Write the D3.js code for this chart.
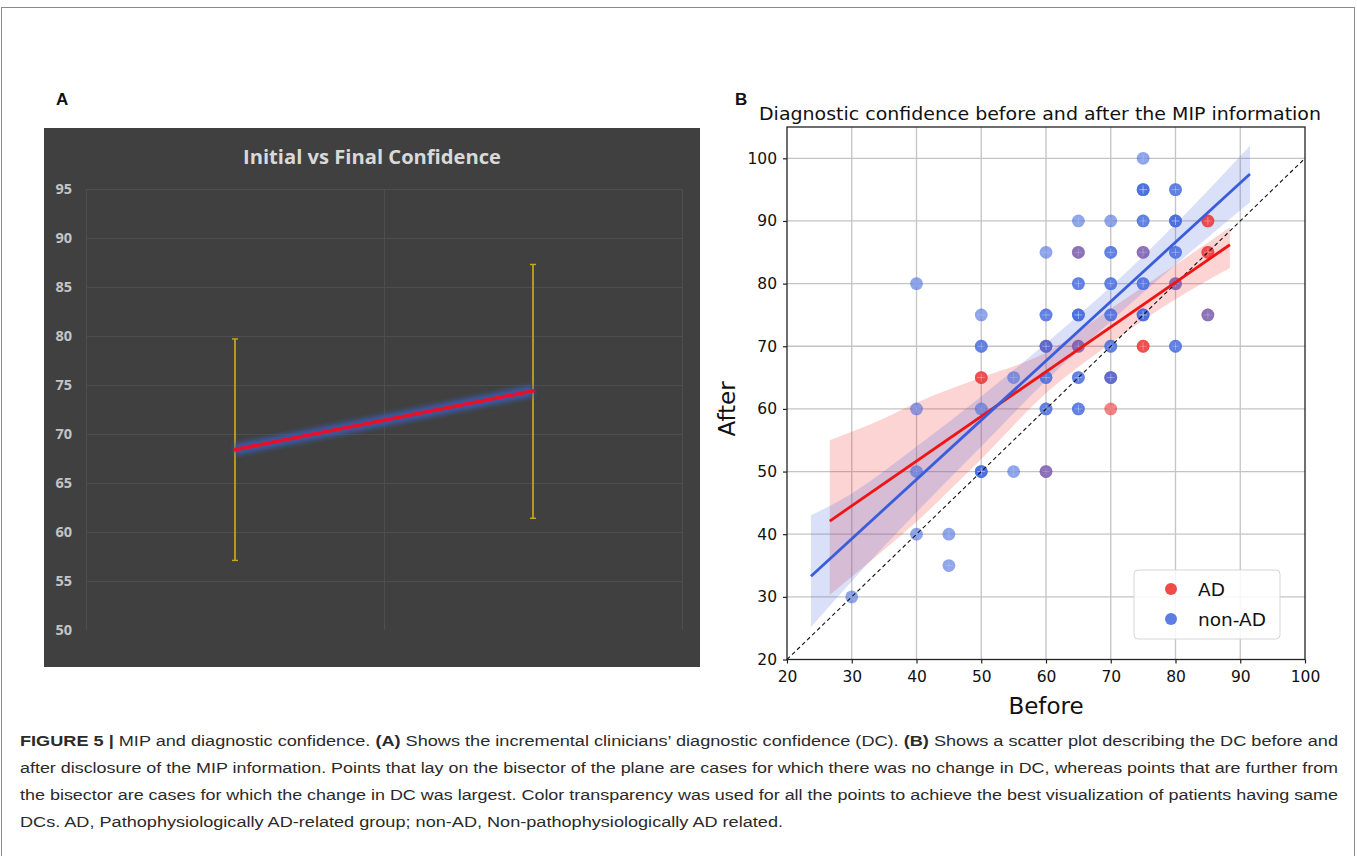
<!DOCTYPE html>
<html>
<head>
<meta charset="utf-8">
<script src="https://cdn.jsdelivr.net/npm/d3@7"></script>
<style>
  body { margin: 0; background: #fff; }
  svg { display: block; }
</style>
</head>
<body>
<svg id="fig" width="1357" height="856"></svg>
<script>
// ---- panel A data (Excel style chart) ----
var stages = ["Initial", "Final"];
var stageMean = [68.4, 74.4];
var stageLow = [57.1, 61.4];
var stageHigh = [79.7, 87.3];
var aTicks = [50, 55, 60, 65, 70, 75, 80, 85, 90, 95];

// ---- panel B data (scatter, before vs after) ----
var adBefore = [50, 50, 60, 60, 65, 65, 70, 70, 75, 75, 75, 80, 85, 85, 85, 85, 85];
var adAfter  = [65, 65, 70, 50, 85, 70, 65, 60, 85, 70, 70, 80, 90, 90, 85, 85, 75];
var nonAdBefore = [30, 40, 40, 40, 40, 45, 45, 50, 50, 50, 50, 50, 50, 50, 55, 55,
                   60, 60, 60, 60, 60, 60, 60, 60, 60, 60,
                   65, 65, 65, 65, 65, 65, 65, 65, 65, 65, 65, 65,
                   70, 70, 70, 70, 70, 70, 70, 70, 70, 70, 70,
                   75, 75, 75, 75, 75, 75, 75, 75, 75, 75, 75, 75,
                   80, 80, 80, 80, 80, 80, 80, 80, 80, 80, 85];
var nonAdAfter  = [30, 80, 60, 50, 40, 40, 35, 75, 70, 70, 60, 50, 50, 50, 65, 50,
                   85, 75, 75, 70, 65, 65, 60, 60, 50, 70,
                   90, 85, 80, 80, 75, 75, 75, 70, 65, 65, 60, 60,
                   90, 85, 85, 80, 80, 75, 75, 70, 70, 65, 65,
                   100, 95, 95, 95, 90, 90, 85, 80, 80, 75, 75, 75,
                   95, 95, 90, 90, 90, 85, 85, 80, 70, 70, 75];

// regression lines [before, after] end points
var adFit = [[26.6, 42.1], [88.4, 86.2]];
var nonAdFit = [[23.7, 33.3], [91.5, 97.5]];
// confidence bands: [before, low, high]
var adBand = [[26.6, 30.3, 55.0], [35, 37.5, 58.5], [40, 42, 61], [50, 52, 65],
              [60, 62.5, 69], [70, 70.5, 76], [80, 77.5, 83], [88.4, 82.5, 89]];
var nonAdBand = [[23.7, 25.2, 43.0], [30, 32.5, 46.5], [40, 43.5, 54], [50, 54, 62],
                 [60, 64.5, 70.5], [70, 74, 79.5], [80, 83, 89.5], [91.5, 93, 102]];
var bTicks = [20, 30, 40, 50, 60, 70, 80, 90, 100];
var groups = ["AD", "non-AD"];

var svg = d3.select("#fig");

// outer frame
svg.append("rect")
    .attr("x", 1.5).attr("y", 7.5)
    .attr("width", 1353).attr("height", 900)
    .attr("fill", "none").attr("stroke", "#8a8a8a").attr("stroke-width", 1);

// panel letters
svg.append("text").attr("x", 56).attr("y", 105).text("A")
    .attr("font-family", "Liberation Sans, Arial").attr("font-weight", "bold")
    .attr("font-size", 17).attr("fill", "#111");
svg.append("text").attr("x", 735).attr("y", 105).text("B")
    .attr("font-family", "Liberation Sans, Arial").attr("font-weight", "bold")
    .attr("font-size", 17).attr("fill", "#111");

// ================= panel A =================
var gA = svg.append("g");
gA.append("rect")
    .attr("x", 44).attr("y", 128).attr("width", 656).attr("height", 539)
    .attr("fill", "#404040");

var xA = d3.scaleBand().domain(stages).range([86, 682]);
var yA = d3.scaleLinear().domain([50, 95]).range([630, 189]);

gA.append("text")
    .attr("x", 372).attr("y", 164)
    .attr("text-anchor", "middle")
    .attr("font-family", "Open Sans, Lato, sans-serif")
    .attr("font-weight", "bold")
    .attr("font-size", 19.5)
    .attr("fill", "#d9d9d9")
    .attr("textLength", 258)
    .attr("lengthAdjust", "spacingAndGlyphs")
    .text("Initial vs Final Confidence");

// horizontal gridlines
gA.append("g").selectAll("line")
    .data(aTicks.filter(function(d) { return d > 50; }))
    .enter().append("line")
    .attr("x1", 86).attr("x2", 682)
    .attr("y1", function(d) { return yA(d) + 0.5; })
    .attr("y2", function(d) { return yA(d) + 0.5; })
    .attr("stroke", "#4e4e4e").attr("stroke-width", 1);

// vertical gridlines at category borders
var borders = [xA(stages[0]), xA(stages[1]), xA(stages[1]) + xA.bandwidth()];
gA.append("g").selectAll("line")
    .data(borders)
    .enter().append("line")
    .attr("x1", function(d) { return d + 0.5; })
    .attr("x2", function(d) { return d + 0.5; })
    .attr("y1", yA(95)).attr("y2", yA(50))
    .attr("stroke", "#4e4e4e").attr("stroke-width", 1);

var axisA = d3.axisLeft(yA).tickValues(aTicks).tickSize(0).tickPadding(0);
var gAxA = gA.append("g").attr("transform", "translate(72,0)").call(axisA);
gAxA.select(".domain").remove();
gAxA.selectAll("text")
    .attr("font-family", "Open Sans, Lato, sans-serif")
    .attr("font-weight", "bold")
    .attr("font-size", 14.5)
    .attr("fill", "#c4c4c4");

// error bars
var ebar = gA.append("g").selectAll("g")
    .data(stages)
    .enter().append("g");
ebar.append("line")
    .attr("x1", function(d) { return xA(d) + xA.bandwidth() / 2; })
    .attr("x2", function(d) { return xA(d) + xA.bandwidth() / 2; })
    .attr("y1", function(d, i) { return yA(stageLow[i]); })
    .attr("y2", function(d, i) { return yA(stageHigh[i]); })
    .attr("stroke", "#c9a81c").attr("stroke-width", 1.7);
[stageLow, stageHigh].forEach(function(arr) {
    ebar.append("line")
        .attr("x1", function(d) { return xA(d) + xA.bandwidth() / 2 - 3; })
        .attr("x2", function(d) { return xA(d) + xA.bandwidth() / 2 + 3; })
        .attr("y1", function(d, i) { return yA(arr[i]); })
        .attr("y2", function(d, i) { return yA(arr[i]); })
        .attr("stroke", "#c9a81c").attr("stroke-width", 1.4);
});

// mean line with a soft blue glow under it
var defs = svg.append("defs");
defs.append("filter").attr("id", "glow")
    .attr("x", "-10%").attr("y", "-80%").attr("width", "120%").attr("height", "260%")
    .append("feGaussianBlur").attr("stdDeviation", 2.5);

var meanLine = d3.line()
    .x(function(d, i) { return xA(stages[i]) + xA.bandwidth() / 2; })
    .y(function(d) { return yA(d); });
gA.append("path")
    .datum(stageMean)
    .attr("d", meanLine)
    .attr("fill", "none")
    .attr("stroke", "#3b5aa8")
    .attr("stroke-width", 11)
    .attr("filter", "url(#glow)");
gA.append("path")
    .datum(stageMean)
    .attr("d", meanLine)
    .attr("fill", "none")
    .attr("stroke", "#e5112b")
    .attr("stroke-width", 3.8)
    .attr("stroke-linecap", "round");

// ================= panel B =================
var gB = svg.append("g");
var xB = d3.scaleLinear().domain([20, 100]).range([787, 1305]);
var yB = d3.scaleLinear().domain([20, 105]).range([659.5, 127]);

gB.append("text")
    .attr("x", 1040).attr("y", 120)
    .attr("text-anchor", "middle")
    .attr("font-family", "DejaVu Sans, sans-serif")
    .attr("font-size", 18)
    .attr("fill", "#111")
    .attr("textLength", 562)
    .attr("lengthAdjust", "spacingAndGlyphs")
    .text("Diagnostic confidence before and after the MIP information");

var plot = gB.append("g");

// gridlines
plot.append("g").selectAll("line")
    .data(bTicks.slice(1, -1))
    .enter().append("line")
    .attr("x1", function(d) { return xB(d); })
    .attr("x2", function(d) { return xB(d); })
    .attr("y1", yB(20)).attr("y2", yB(105))
    .attr("stroke", "#c4c4c4").attr("stroke-width", 1.3);
plot.append("g").selectAll("line")
    .data(bTicks.slice(1))
    .enter().append("line")
    .attr("x1", xB(20)).attr("x2", xB(100))
    .attr("y1", function(d) { return yB(d); })
    .attr("y2", function(d) { return yB(d); })
    .attr("stroke", "#c4c4c4").attr("stroke-width", 1.3);

var colAD = "#ee2a2a";
var colNon = "#3f66de";

var band = d3.area()
    .x(function(d) { return xB(d[0]); })
    .y0(function(d) { return yB(d[1]); })
    .y1(function(d) { return yB(d[2]); })
    .curve(d3.curveMonotoneX);

plot.append("path").datum(adBand).attr("d", band)
    .attr("fill", colAD).attr("fill-opacity", 0.2);
plot.append("path").datum(nonAdBand).attr("d", band)
    .attr("fill", colNon).attr("fill-opacity", 0.2);

function drawDots(bx, ay, col) {
    var pts = bx.map(function(d, i) { return [d, ay[i]]; });
    var g = plot.append("g");
    g.selectAll("circle")
        .data(pts)
        .enter().append("circle")
        .attr("cx", function(d) { return xB(d[0]); })
        .attr("cy", function(d) { return yB(d[1]); })
        .attr("r", 6.4)
        .attr("fill", col)
        .attr("fill-opacity", 0.58);
    // faint white cross seen on each marker
    g.selectAll("path")
        .data(pts)
        .enter().append("path")
        .attr("d", function(d) {
            var cx = xB(d[0]), cy = yB(d[1]);
            return "M" + (cx - 4) + "," + cy + "H" + (cx + 4) +
                   "M" + cx + "," + (cy - 4) + "V" + (cy + 4);
        })
        .attr("stroke", "#fff").attr("stroke-opacity", 0.18).attr("stroke-width", 1);
}
drawDots(adBefore, adAfter, colAD);
drawDots(nonAdBefore, nonAdAfter, colNon);

// identity line
plot.append("line")
    .attr("x1", xB(20)).attr("y1", yB(20))
    .attr("x2", xB(100)).attr("y2", yB(100))
    .attr("stroke", "#111").attr("stroke-width", 1.1)
    .attr("stroke-dasharray", "4,3");

var fitLine = d3.line()
    .x(function(d) { return xB(d[0]); })
    .y(function(d) { return yB(d[1]); });
plot.append("path").datum(adFit).attr("d", fitLine)
    .attr("stroke", "#f01414").attr("stroke-width", 2.8).attr("fill", "none");
plot.append("path").datum(nonAdFit).attr("d", fitLine)
    .attr("stroke", "#3a5ddc").attr("stroke-width", 2.8).attr("fill", "none");

// frame
gB.append("rect")
    .attr("x", xB(20)).attr("y", yB(105))
    .attr("width", xB(100) - xB(20)).attr("height", yB(20) - yB(105))
    .attr("fill", "none").attr("stroke", "#222").attr("stroke-width", 1.3);

var axX = gB.append("g").attr("transform", "translate(0," + yB(20) + ")")
    .call(d3.axisBottom(xB).tickValues(bTicks).tickSize(4).tickPadding(7));
var axY = gB.append("g").attr("transform", "translate(" + xB(20) + ",0)")
    .call(d3.axisLeft(yB).tickValues(bTicks).tickSize(4).tickPadding(6));
[axX, axY].forEach(function(ax) {
    ax.select(".domain").remove();
    ax.selectAll("line").attr("stroke", "#222").attr("stroke-width", 1.2);
    ax.selectAll("text")
        .attr("font-family", "DejaVu Sans, sans-serif")
        .attr("font-size", 15.5)
        .attr("fill", "#111");
});

gB.append("text")
    .attr("x", xB(60)).attr("y", 714)
    .attr("text-anchor", "middle")
    .attr("font-family", "DejaVu Sans, sans-serif")
    .attr("font-size", 23)
    .attr("fill", "#111")
    .text("Before");
gB.append("text")
    .attr("transform", "translate(735," + yB(60) + ") rotate(-90)")
    .attr("text-anchor", "middle")
    .attr("font-family", "DejaVu Sans, sans-serif")
    .attr("font-size", 23)
    .attr("fill", "#111")
    .text("After");

// legend
var leg = gB.append("g").attr("transform", "translate(1134,570)");
leg.append("rect")
    .attr("width", 146).attr("height", 69).attr("rx", 4)
    .attr("fill", "#fff").attr("fill-opacity", 0.85)
    .attr("stroke", "#d6d6d6");
var legItems = leg.selectAll("g.item")
    .data(groups)
    .enter().append("g")
    .attr("class", "item")
    .attr("transform", function(d, i) { return "translate(0," + (19 + i * 30) + ")"; });
legItems.append("circle")
    .attr("cx", 37).attr("cy", 0).attr("r", 6)
    .attr("fill", function(d, i) { return i === 0 ? colAD : colNon; })
    .attr("fill-opacity", 0.85);
legItems.append("text")
    .attr("x", 64).attr("y", 7)
    .attr("font-family", "DejaVu Sans, sans-serif")
    .attr("font-size", 18.5)
    .attr("fill", "#111")
    .text(function(d) { return d; });

// ================= caption =================
var capLines = [
    [["FIGURE 5 | ", true], ["MIP and diagnostic confidence. ", false], ["(A)", true],
     [" Shows the incremental clinicians\u2019 diagnostic confidence (DC). ", false], ["(B)", true],
     [" Shows a scatter plot describing the DC before and", false]],
    [["after disclosure of the MIP information. Points that lay on the bisector of the plane are cases for which there was no change in DC, whereas points that are further from", false]],
    [["the bisector are cases for which the change in DC was largest. Color transparency was used for all the points to achieve the best visualization of patients having same", false]],
    [["DCs. AD, Pathophysiologically AD-related group; non-AD, Non-pathophysiologically AD related.", false]]
];
var capWidths = [1318, 1318, 1318, 763];

var cap = svg.append("g");
capLines.forEach(function(parts, i) {
    var t = cap.append("text")
        .attr("x", 20).attr("y", 746 + i * 27)
        .attr("font-family", "Liberation Sans, Arial, sans-serif")
        .attr("font-size", 15.5)
        .attr("fill", "#2a2a2a")
        .attr("textLength", capWidths[i])
        .attr("lengthAdjust", "spacingAndGlyphs");
    parts.forEach(function(p) {
        t.append("tspan")
            .attr("font-weight", p[1] ? "bold" : "normal")
            .text(p[0]);
    });
});
</script>
</body>
</html>
